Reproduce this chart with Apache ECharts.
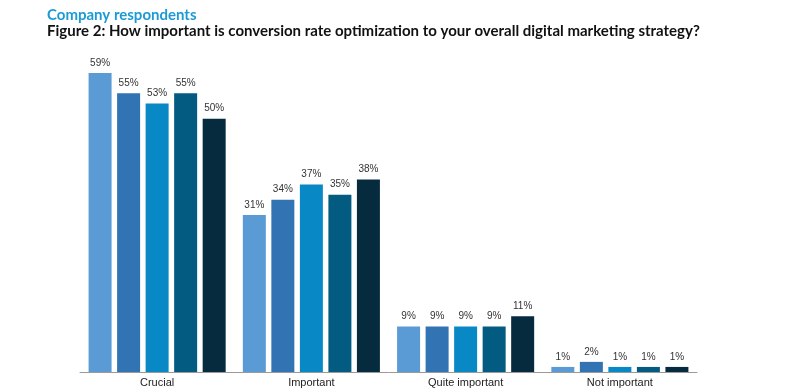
<!DOCTYPE html>
<html><head><meta charset="utf-8">
<script src="https://cdn.jsdelivr.net/npm/echarts@6/dist/echarts.min.js"></script>
<style>html,body{margin:0;padding:0;background:#fff}#c{width:789px;height:392px}</style>
</head><body><div id="c"></div>
<script>
var categories = ['Crucial', 'Important', 'Quite important', 'Not important'];
var series1 = [59, 31, 9, 1];
var series2 = [55, 34, 9, 2];
var series3 = [53, 37, 9, 1];
var series4 = [55, 35, 9, 1];
var series5 = [50, 38, 11, 1];
var seriesData = [series1, series2, series3, series4, series5];
var colors = ['#5b9bd5', '#3173b3', '#0988c6', '#045b81', '#062b3f'];

var chart = echarts.init(document.getElementById('c'));
chart.setOption({
  animation: false,
  title: [
    { text: 'Company respondents', left: 42, top: 3,
      textStyle: { fontFamily: 'Lato', fontWeight: 'bold', fontSize: 15, color: '#1b9ad6' } },
    { text: 'Figure 2: How important is conversion rate optimization to your overall digital marketing strategy?', left: 42, top: 19,
      textStyle: { fontFamily: 'Lato', fontWeight: 'bold', fontSize: 15, color: '#111' } }
  ],
  grid: { left: 80, right: 92, top: 68, bottom: 20 },
  xAxis: {
    type: 'category', data: categories,
    axisLine: { lineStyle: { color: '#999', width: 1 } },
    axisTick: { show: false },
    axisLabel: { fontFamily: 'Liberation Sans', fontSize: 11, color: '#222', margin: 5 }
  },
  yAxis: { type: 'value', min: 0, max: 60, show: false, splitLine: { show: false } },
  series: seriesData.map(function (d, i) {
    return {
      type: 'bar', data: d, barWidth: 23, barGap: '24%',
      itemStyle: { color: colors[i] },
      label: { show: true, position: 'top', formatter: '{c}%', distance: 5,
        fontFamily: 'Liberation Sans', fontSize: 10, color: '#333' }
    };
  })
});
</script></body></html>
